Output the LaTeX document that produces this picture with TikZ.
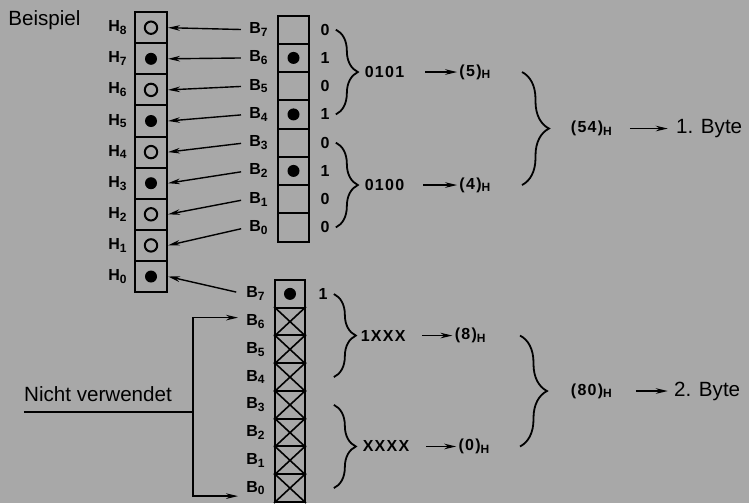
\documentclass[tikz,border=0pt]{standalone}
\usepackage{fontspec}
\setmainfont{Liberation Sans}
\newfontfamily\labfont[LetterSpace=8]{Liberation Sans Bold}
\usetikzlibrary{arrows.meta,positioning,decorations.pathreplacing}
\definecolor{paper}{RGB}{168,168,168}
\tikzset{
  hcell/.style={draw, line width=1pt, minimum width=16pt, minimum height=15.55pt, inner sep=0pt},
  bcell/.style={draw, line width=1pt, minimum width=15.5pt, minimum height=14.125pt, inner sep=0pt},
  ccell/.style={draw, line width=1pt, minimum width=15pt, minimum height=13.875pt, inner sep=0pt},
  lab/.style={font=\labfont\fontsize{8}{9}\selectfont, inner sep=1pt},
  full/.style={circle, fill, minimum size=6pt, inner sep=0pt},
  hollow/.style={circle, draw, line width=1pt, minimum size=6.2pt, inner sep=0pt},
  brc/.style={decorate, decoration={brace, amplitude=11pt}, line width=0.9pt},
  bigbrc/.style={decorate, decoration={brace, amplitude=13.5pt}, line width=0.9pt},
  pfeil/.style={->, line width=0.7pt},
}
\begin{document}
\begin{tikzpicture}[x=0.5pt, y=-0.5pt, >={Stealth[length=6pt,width=2.8pt]},
  every node/.style={font=\fontsize{10.3}{12}\selectfont}]
\fill[paper] (0,0) rectangle (749,503);
\node[anchor=west, inner sep=0pt] (bsp) at (8,20) {Beispiel};

\foreach \i in {0,...,8}
  \node[hcell] (h\i) at (151,{276.5-31.1*\i}) {};
\foreach \i in {0,...,8}
  \node[lab, left=2pt] (lh\i) at (h\i.west) {H\textsubscript{\i}};
\foreach \i/\s in {8/hollow,7/full,6/hollow,5/full,4/hollow,3/full,2/hollow,1/hollow,0/full}
  \node[\s] (dh\i) at (h\i) {};

\foreach \i/\v in {7/0,6/1,5/0,4/1,3/0,2/1,1/0,0/0} {
  \node[bcell] (b\i) at (293.5,{227.4-28.25*\i}) {};
  \node[lab] (lb\i) at (259,{227.4-28.25*\i}) {B\textsubscript{\i}};
  \node[lab] (v\i) at (325,{227.4-28.25*\i}) {\v};
}
\foreach \i in {6,4,2}
  \node[full] (db\i) at (b\i) {};
\foreach \i/\j in {7/8,6/7,5/6,4/5,3/4,2/3,1/2,0/1}
  \draw[pfeil, shorten <=3pt] (lb\i.west) -- (h\j.east);

\foreach \i in {0,...,7} {
  \node[ccell] (c\i) at (290,{488.1-27.75*\i}) {};
  \node[lab] (lc\i) at (256,{488.1-27.75*\i}) {B\textsubscript{\i}};
}
\node[full] (dc7) at (c7) {};
\foreach \i in {0,...,6}
  \draw[line width=0.8pt] (c\i.north west) -- (c\i.south east) (c\i.north east) -- (c\i.south west);
\node[lab] (w7) at (323,294) {1};
\draw[pfeil, shorten <=4pt] (lc7.west) -- (h0.east);

\draw[brc] ([xshift=2pt]v7.east) -- ([xshift=2pt]v4.east)
  node[lab, midway, right=13pt] (n1) {0101};
\draw[brc] ([xshift=2pt]v3.east) -- ([xshift=2pt]v0.east)
  node[lab, midway, right=13pt] (n2) {0100};
\node[lab, right=25pt of n1] (x5) {(5)\textsubscript{H}};
\node[lab, right=25pt of n2] (x4) {(4)\textsubscript{H}};
\draw[pfeil, shorten <=9pt] (n1.east) -- (x5.west);
\draw[pfeil, shorten <=8pt] (n2.east) -- (x4.west);

\draw[brc] ([xshift=2pt]w7.east) -- ([xshift=2pt]w7.east |- lc4)
  node[lab, midway, right=12pt] (n3) {1XXX};
\draw[brc] ([xshift=2pt]w7.east |- lc3) -- ([xshift=2pt]w7.east |- lc0)
  node[lab, midway, right=13pt] (n4) {XXXX};
\node[lab, right=22pt of n3] (x8) {(8)\textsubscript{H}};
\node[lab, right=22pt of n4] (x0) {(0)\textsubscript{H}};
\draw[pfeil, shorten <=7pt] (n3.east) -- (x8.west);
\draw[pfeil, shorten <=7pt] (n4.east) -- (x0.west);

\coordinate (bb1) at (522,0);
\coordinate (bb2) at (520,0);
\draw[bigbrc] (x5 -| bb1) -- (x4 -| bb1)
  node[lab, midway, right=23pt] (x54) {(54)\textsubscript{H}};
\draw[bigbrc] (x8 -| bb2) -- (x0 -| bb2)
  node[lab, midway, right=24pt] (x80) {(80)\textsubscript{H}};
\node[right=30pt of x54, inner sep=0pt] (byte1) {1. Byte};
\node[right=29pt of x80, inner sep=0pt] (byte2) {2. Byte};
\draw[pfeil, shorten <=7pt, shorten >=4pt] (x54.east) -- (byte1.west);
\draw[pfeil, shorten <=10pt, shorten >=3pt] (x80.east) -- (byte2.west);

\node[inner sep=0pt] (nv) at (98,394) {Nicht verwendet};
\coordinate (jn) at (193,412);
\draw[line width=0.7pt] (nv.west |- jn) -- (jn);
\draw[pfeil, shorten >=3pt] (jn) |- ([yshift=2pt]lc6.west);
\draw[pfeil, shorten >=3pt] (jn) |- ([yshift=-4pt]lc0.west);
\end{tikzpicture}
\end{document}
